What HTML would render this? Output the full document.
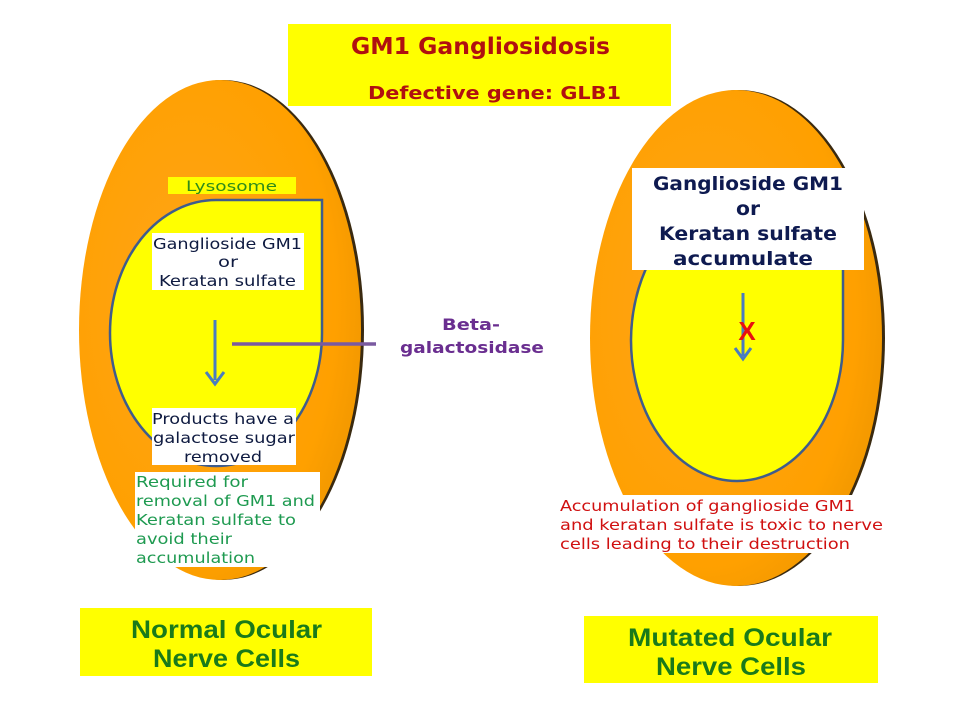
<!DOCTYPE html>
<html><head><meta charset="utf-8"><style>
html,body{margin:0;padding:0;background:#fff;}
svg{display:block;}
</style></head><body>
<svg width="960" height="720" viewBox="0 0 960 720" xmlns="http://www.w3.org/2000/svg">
<defs>
<radialGradient id="og" cx="0.4" cy="0.45" r="0.6">
<stop offset="0" stop-color="#FFA51A"/><stop offset="0.85" stop-color="#FFA000"/><stop offset="1" stop-color="#F59A00"/>
</radialGradient>
</defs>
<rect width="960" height="720" fill="#fff"/>
<ellipse cx="223" cy="330" rx="141" ry="250" fill="#3a2a10"/>
<ellipse cx="220" cy="330" rx="141" ry="250" fill="url(#og)"/>
<ellipse cx="739" cy="338" rx="146" ry="248" fill="#3a2a10"/>
<ellipse cx="736" cy="338" rx="146" ry="248" fill="url(#og)"/>
<path d="M216,200 L322,200 L322,333 A106,133 0 0 1 216,466 A106,133 0 0 1 110,333 A106,133 0 0 1 216,200 Z" fill="#FFFF00" stroke="#3F5C8C" stroke-width="2.5"/>
<path d="M737,200 L843,200 L843,340 A106,141 0 0 1 737,481 A106,141 0 0 1 631,340 A106,141 0 0 1 737,200 Z" fill="#FFFF00" stroke="#3F5C8C" stroke-width="2.5"/>
<!-- title -->
<rect x="288" y="24" width="383" height="82" fill="#FFFF00"/>
<text x="351" y="54" textLength="259" lengthAdjust="spacingAndGlyphs" font-family="DejaVu Sans, sans-serif" font-weight="bold" font-size="23" fill="#B01010">GM1 Gangliosidosis</text>
<text x="368" y="99" textLength="253" lengthAdjust="spacingAndGlyphs" font-family="DejaVu Sans, sans-serif" font-weight="bold" font-size="18" fill="#B01010">Defective gene: GLB1</text>
<!-- left cell -->
<rect x="168" y="177" width="128" height="17" fill="#FFFF00"/>
<text x="186" y="191" textLength="91" lengthAdjust="spacingAndGlyphs" font-family="DejaVu Sans, sans-serif" font-size="14" fill="#2E8B1A">Lysosome</text>
<rect x="152" y="233" width="152" height="57" fill="#fff"/>
<g font-family="DejaVu Sans, sans-serif" font-size="15" fill="#0E1A40">
<text x="153" y="249" textLength="149" lengthAdjust="spacingAndGlyphs">Ganglioside GM1</text>
<text x="218" y="267" textLength="20" lengthAdjust="spacingAndGlyphs">or</text>
<text x="159" y="286" textLength="137" lengthAdjust="spacingAndGlyphs">Keratan sulfate</text>
</g>
<line x1="215" y1="320" x2="215" y2="380" stroke="#4A7CC0" stroke-width="3"/>
<path d="M206,372 L215,384 L224,372" fill="none" stroke="#4A7CC0" stroke-width="3"/>
<line x1="232" y1="344" x2="376" y2="344" stroke="#7A5AA0" stroke-width="3.5"/>
<text x="442" y="330" textLength="58" lengthAdjust="spacingAndGlyphs" font-family="DejaVu Sans, sans-serif" font-weight="bold" font-size="16" fill="#6A2E90">Beta-</text>
<text x="400" y="353" textLength="144" lengthAdjust="spacingAndGlyphs" font-family="DejaVu Sans, sans-serif" font-weight="bold" font-size="16" fill="#6A2E90">galactosidase</text>
<rect x="152" y="408" width="144" height="57" fill="#fff"/>
<g font-family="DejaVu Sans, sans-serif" font-size="15" fill="#0E1A40">
<text x="152" y="424" textLength="142" lengthAdjust="spacingAndGlyphs">Products have a</text>
<text x="153" y="443" textLength="142" lengthAdjust="spacingAndGlyphs">galactose sugar</text>
<text x="184" y="462" textLength="78" lengthAdjust="spacingAndGlyphs">removed</text>
</g>
<rect x="135" y="472" width="185" height="95" fill="#fff"/>
<g font-family="DejaVu Sans, sans-serif" font-size="15" fill="#1E9A50">
<text x="136" y="487" textLength="112" lengthAdjust="spacingAndGlyphs">Required for</text>
<text x="136" y="506" textLength="179" lengthAdjust="spacingAndGlyphs">removal of GM1 and</text>
<text x="136" y="525" textLength="160" lengthAdjust="spacingAndGlyphs">Keratan sulfate to</text>
<text x="136" y="544" textLength="96" lengthAdjust="spacingAndGlyphs">avoid their</text>
<text x="136" y="563" textLength="119" lengthAdjust="spacingAndGlyphs">accumulation</text>
</g>
<!-- right cell -->
<rect x="632" y="168" width="232" height="102" fill="#fff"/>
<g font-family="DejaVu Sans, sans-serif" font-weight="bold" font-size="19" fill="#0E1A50">
<text x="653" y="190" textLength="190" lengthAdjust="spacingAndGlyphs">Ganglioside GM1</text>
<text x="736" y="215" textLength="24" lengthAdjust="spacingAndGlyphs">or</text>
<text x="659" y="240" textLength="178" lengthAdjust="spacingAndGlyphs">Keratan sulfate</text>
<text x="673" y="265" textLength="140" lengthAdjust="spacingAndGlyphs">accumulate</text>
</g>
<line x1="743" y1="293" x2="743" y2="356" stroke="#4A7CC0" stroke-width="3"/>
<path d="M735,348 L743,359 L751,348" fill="none" stroke="#4A7CC0" stroke-width="3"/>
<text x="747" y="340" text-anchor="middle" font-family="Liberation Sans, sans-serif" font-weight="bold" font-size="26" fill="#E81010">X</text>
<rect x="560" y="495" width="325" height="58" fill="#fff"/>
<g font-family="DejaVu Sans, sans-serif" font-size="15" fill="#D01010">
<text x="560" y="511" textLength="295" lengthAdjust="spacingAndGlyphs">Accumulation of ganglioside GM1</text>
<text x="560" y="530" textLength="323" lengthAdjust="spacingAndGlyphs">and keratan sulfate is toxic to nerve</text>
<text x="560" y="549" textLength="290" lengthAdjust="spacingAndGlyphs">cells leading to their destruction</text>
</g>
<!-- bottom labels -->
<rect x="80" y="608" width="292" height="68" fill="#FFFF00"/>
<g font-family="Liberation Sans, sans-serif" font-weight="bold" font-size="25" fill="#1A7A1A">
<text x="131" y="638" textLength="191" lengthAdjust="spacingAndGlyphs">Normal Ocular</text>
<text x="153" y="667" textLength="147" lengthAdjust="spacingAndGlyphs">Nerve Cells</text>
</g>
<rect x="584" y="616" width="294" height="67" fill="#FFFF00"/>
<g font-family="Liberation Sans, sans-serif" font-weight="bold" font-size="25" fill="#1A7A1A">
<text x="628" y="646" textLength="204" lengthAdjust="spacingAndGlyphs">Mutated Ocular</text>
<text x="656" y="675" textLength="150" lengthAdjust="spacingAndGlyphs">Nerve Cells</text>
</g>
</svg>
</body></html>
